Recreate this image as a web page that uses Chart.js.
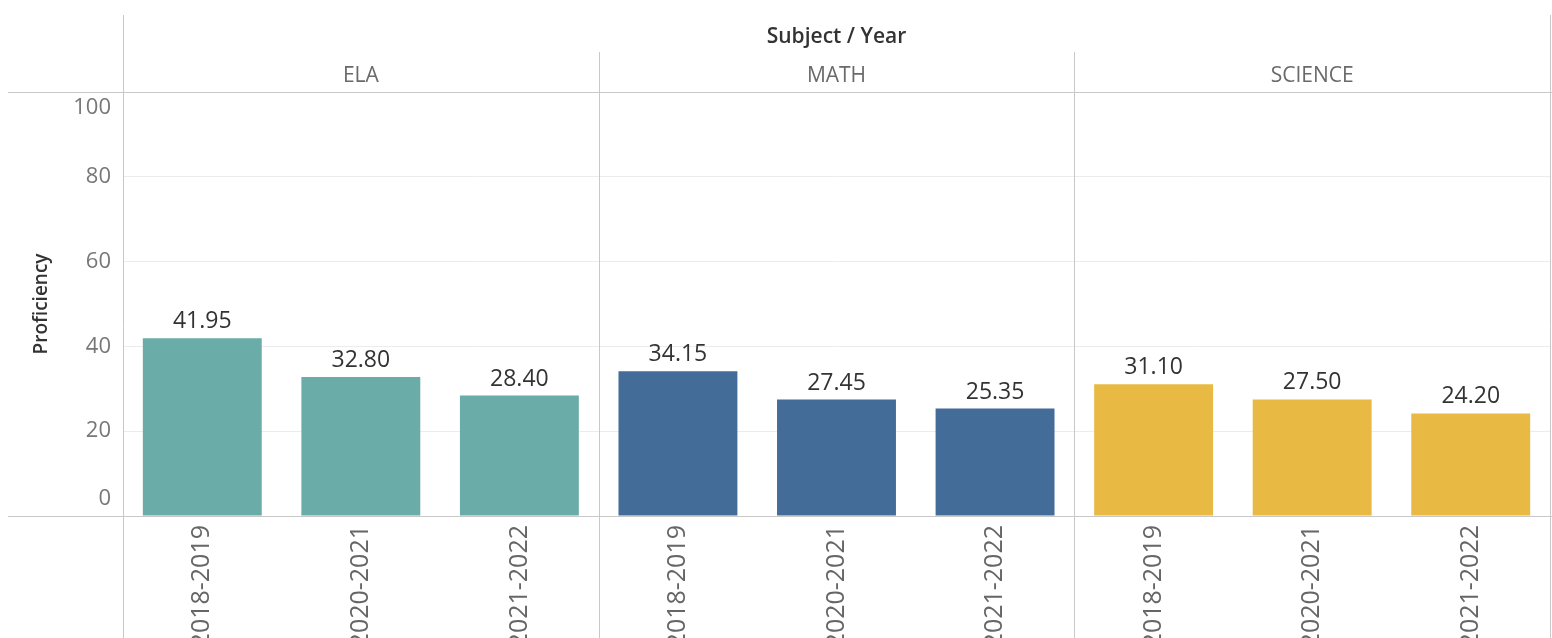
<!DOCTYPE html>
<html>
<head>
<meta charset="utf-8">
<script src="https://cdn.jsdelivr.net/npm/chart.js@4"></script>
<style>
  html, body { margin: 0; padding: 0; background: #fff; }
  #wrap { width: 1552px; height: 638px; }
</style>
</head>
<body>
<div id="wrap"><canvas id="proficiencyChart"></canvas></div>
<script>
// Data
const subjects = ["ELA", "MATH", "SCIENCE"];
const years = ["2018-2019", "2020-2021", "2021-2022"];
const elaValues = [41.95, 32.80, 28.40];
const mathValues = [34.15, 27.45, 25.35];
const scienceValues = [31.10, 27.50, 24.20];
const subjectColors = ["#6aaca7", "#436d98", "#e8ba44"];

const FONT = "'Open Sans', sans-serif";
const LINE = "#c8c8c8";

const labels = subjects.flatMap(() => years);
const values = [...elaValues, ...mathValues, ...scienceValues];
const colors = subjects.flatMap((s, i) => years.map(() => subjectColors[i]));

function hline(ctx, x1, x2, y) {
    const yy = Math.round(y) + 0.5;
    ctx.beginPath();
    ctx.moveTo(x1, yy);
    ctx.lineTo(x2, yy);
    ctx.stroke();
}
function vline(ctx, x, y1, y2) {
    const xx = Math.round(x) + 0.5;
    ctx.beginPath();
    ctx.moveTo(xx, y1);
    ctx.lineTo(xx, y2);
    ctx.stroke();
}

// Tableau-like panel headers, borders, y tick labels and value labels
const panelPlugin = {
    id: "panels",
    afterDraw(chart) {
        const { ctx, chartArea: a, scales: { x, y } } = chart;
        const cw = x.getPixelForValue(1) - x.getPixelForValue(0);
        const yTop = y.getPixelForValue(y.max);
        const yBase = y.getPixelForValue(y.min);
        ctx.save();
        ctx.strokeStyle = LINE;
        ctx.lineWidth = 1;
        hline(ctx, 8, chart.width, yTop);
        hline(ctx, 8, chart.width, yBase);
        vline(ctx, a.left, 15, chart.height);
        vline(ctx, a.right, 15, chart.height);

        // header
        ctx.fillStyle = "#333";
        ctx.font = "600 21px " + FONT;
        ctx.textAlign = "center";
        ctx.textBaseline = "alphabetic";
        ctx.fillText("Subject / Year", (a.left + a.right) / 2, 43);

        subjects.forEach((s, i) => {
            const left = x.getPixelForValue(i * years.length) - cw / 2;
            const right = x.getPixelForValue(i * years.length + years.length - 1) + cw / 2;
            if (i > 0) vline(ctx, left, 52, chart.height);
            ctx.fillStyle = "#6a6a6a";
            ctx.font = "21px " + FONT;
            ctx.fillText(s, (left + right) / 2, 82);
        });

        // y tick labels (edge labels nudged inside like Tableau)
        ctx.fillStyle = "#777";
        ctx.font = "22px " + FONT;
        ctx.textAlign = "right";
        ctx.textBaseline = "middle";
        y.ticks.forEach(t => {
            let py = y.getPixelForValue(t.value);
            if (t.value === y.max) py += 16;
            if (t.value === y.min) py -= 17;
            ctx.fillText(String(t.value), a.left - 12, py);
        });

        // value labels
        ctx.fillStyle = "#333";
        ctx.font = "23px " + FONT;
        ctx.textAlign = "center";
        ctx.textBaseline = "alphabetic";
        chart.getDatasetMeta(0).data.forEach((bar, i) => {
            ctx.fillText(values[i].toFixed(2), bar.x, bar.y - 10);
        });
        ctx.restore();
    }
};

const ctx = document.getElementById("proficiencyChart").getContext("2d");
new Chart(ctx, {
    type: "bar",
    data: {
        labels: labels,
        datasets: [{
            label: "Proficiency",
            data: values,
            backgroundColor: colors,
            borderWidth: 0,
            barPercentage: 0.75,
            categoryPercentage: 1.0,
        }],
    },
    options: {
        responsive: true,
        maintainAspectRatio: false,
        animation: false,
        layout: { padding: { top: 92, right: 2, left: 0, bottom: 0 } },
        plugins: {
            legend: { display: false },
            tooltip: { enabled: false },
        },
        scales: {
            x: {
                grid: { display: false },
                border: { display: false },
                ticks: {
                    autoSkip: false,
                    minRotation: 90,
                    maxRotation: 90,
                    padding: 1,
                    color: "#666",
                    font: { family: FONT, size: 25 },
                },
                afterFit: scale => { scale.height = 122; },
            },
            y: {
                min: 0,
                max: 100,
                ticks: { stepSize: 20, display: false },
                grid: {
                    drawTicks: false,
                    color: c => (c.tick.value === 0 || c.tick.value === 100) ? "rgba(0,0,0,0)" : "#ececec",
                },
                border: { display: false },
                title: {
                    display: true,
                    text: "Proficiency",
                    color: "#333",
                    font: { family: FONT, size: 19, weight: "600" },
                    padding: { top: 30, bottom: 0 },
                },
                afterFit: scale => { scale.width = 123; },
            },
        },
    },
    plugins: [panelPlugin],
});
</script>
</body>
</html>
